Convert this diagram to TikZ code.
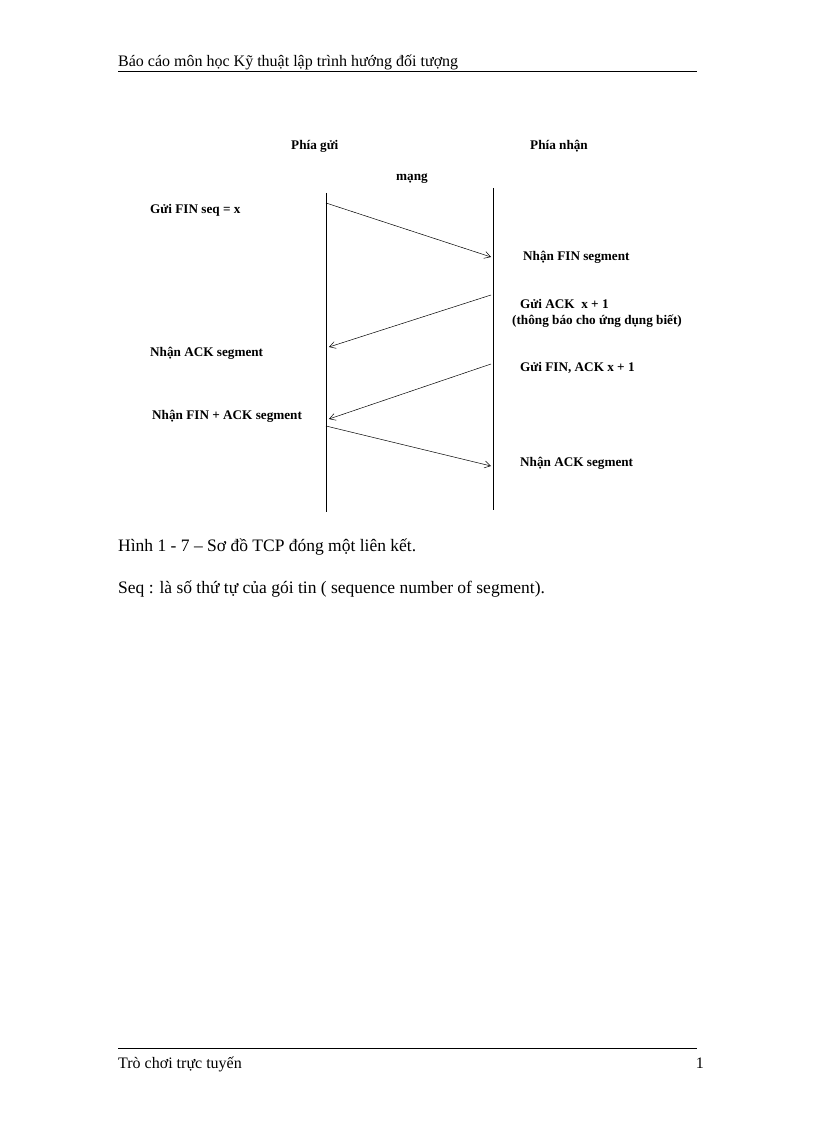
\documentclass[tikz,border=0pt]{standalone}
\usepackage{fontspec}
\usetikzlibrary{arrows.meta}
\setmainfont{Liberation Serif}
\begin{document}
\begin{tikzpicture}[x=1pt,y=-1pt,
 lbl/.style={font=\fontsize{13.2}{15}\selectfont\bfseries, anchor=west, inner sep=0},
 msg/.style={-{Straight Barb[length=6pt,width=7pt]}, line width=0.5pt},
 page/.style={anchor=base west, inner sep=0, font=\fontsize{16}{18}\selectfont}]
\useasboundingbox (0,0) rectangle (816,1123);
\fill[white] (0,0) rectangle (816,1123);
\node[page] (hdr) at (118,67) {Báo cáo môn học Kỹ thuật lập trình hướng đối tượng};
\draw[line width=0.6pt] (118,71) -- (697,71);
\draw[line width=0.6pt] (118,1048) -- (697,1048);
\node[page] (ftr) at (118,1068) {Trò chơi trực tuyến};
\node[page,anchor=base east] (pg) at (704,1068) {1};
\coordinate (L0) at (326,193); \coordinate (L1) at (326,512);
\coordinate (R0) at (493,188); \coordinate (R1) at (493,510);
\draw[line width=0.6pt] (L0) -- (L1);
\draw[line width=0.6pt] (R0) -- (R1);
\node[lbl] (ps) at (291,146) {Phía gửi};
\node[lbl] (pn) at (530,146) {Phía nhận};
\node[lbl] (mg) at (396,179) {mạng};
\coordinate (a1) at (326,203); \coordinate (b1) at (491,257);
\coordinate (a2) at (491,295); \coordinate (b2) at (329,347);
\coordinate (a3) at (491,364); \coordinate (b3) at (329,419);
\coordinate (a4) at (326,426); \coordinate (b4) at (491,466);
\draw[msg] (a1) -- (b1);
\draw[msg] (a2) -- (b2);
\draw[msg] (a3) -- (b3);
\draw[msg] (a4) -- (b4);
\node[lbl] (t1) at (150,210) {Gửi FIN seq = x};
\node[lbl] (t2) at (523,257) {Nhận FIN segment};
\node[lbl] (t3) at (520,304) {Gửi ACK\ \ x + 1};
\node[lbl] (t3b) at (512,321) {(thông báo cho ứng dụng biết)};
\node[lbl] (t4) at (150,353) {Nhận ACK segment};
\node[lbl] (t5) at (520,368) {Gửi FIN, ACK x + 1};
\node[lbl] (t6) at (152,416) {Nhận FIN + ACK segment};
\node[lbl] (t7) at (520,463) {Nhận ACK segment};
\node[page,font=\fontsize{17.5}{19}\selectfont] (cap) at (118,551) {Hình 1 - 7 – Sơ đồ TCP đóng một liên kết.};
\node[page,font=\fontsize{17.5}{19}\selectfont] (seq) at (118,593) {Seq : là số thứ tự của gói tin ( sequence number of segment).};
\end{tikzpicture}
\end{document}
